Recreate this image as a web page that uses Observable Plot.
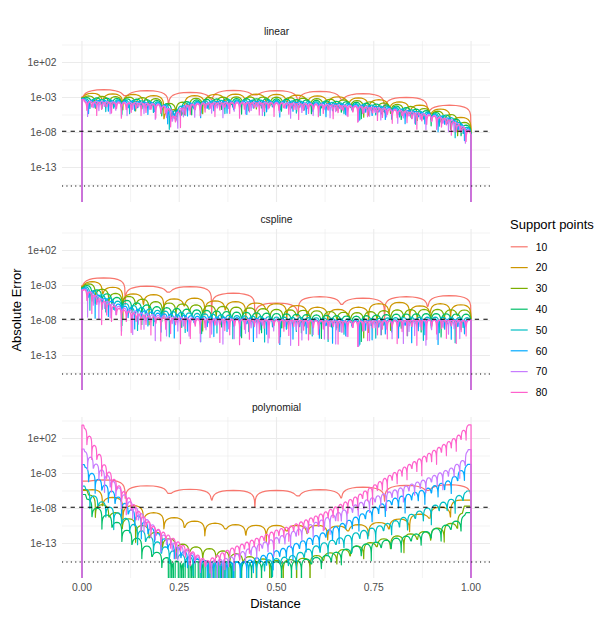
<!DOCTYPE html>
<html>
<head>
<meta charset="utf-8">
<script src="https://cdn.jsdelivr.net/npm/d3@7"></script>
<script src="https://cdn.jsdelivr.net/npm/@observablehq/plot@0.6"></script>
<style>
  body { margin: 0; background: #ffffff; }
  #wrap { position: relative; width: 608px; height: 634px; font-family: "Liberation Sans", Arial, Helvetica, sans-serif; }
  #chart, #overlay { position: absolute; left: 0; top: 0; }
  #overlay { pointer-events: none; }
</style>
</head>
<body>
<div id="wrap"><div id="chart"></div><svg id="overlay" width="608" height="634"></svg></div>
<script>
// ---------------- categories, scales, ticks ----------------
const methods = ["linear", "cspline", "polynomial"];
const supportPoints = [10, 20, 30, 40, 50, 60, 70, 80];
const palette = ["#F8766D", "#CD9600", "#7CAE00", "#00BE67", "#00BFC4", "#00A9FF", "#C77CFF", "#FF61CC"];
const xTicks = [0, 0.25, 0.5, 0.75, 1];
const xMinor = [0.125, 0.375, 0.625, 0.875];
const yTicksLog = [2, -3, -8, -13];            // log10 of 1e+02 ... 1e-13
const yMinorLog = [4.5, -0.5, -5.5, -10.5, -15.5];
const sqrtEpsLog = -7.83;                      // dashed reference line
const epsLog = -15.65;                         // dotted reference line
const ZERO = -40;                              // exact zero error (log10 = -Inf) -> panel floor

// ---------------- error envelopes: log10 of arch peaks ----------------
const arch9X = [0.056, 0.167, 0.278, 0.389, 0.5, 0.611, 0.722, 0.833, 0.944];
const arch19X = [0.026, 0.079, 0.132, 0.184, 0.237, 0.289, 0.342, 0.395, 0.447, 0.5, 0.553, 0.605, 0.658, 0.711, 0.763, 0.816, 0.868, 0.921, 0.974];

// linear
const linearX = [0, 0.05, 0.1, 0.15, 0.2, 0.225, 0.237, 0.25, 0.27, 0.3, 0.35, 0.4, 0.5, 0.6, 0.7, 0.8, 0.9, 0.95, 0.98, 1];
const linear10 = [-1.88, -2.02, -2.26, -1.98, -2.02, -2.12, -2.45, -2.97, -4.1];
const linear20 = [-2.35, -2.43, -2.50, -2.60, -2.80, -3.45, -4.75, -3.55, -2.90, -2.65, -2.55, -2.50, -2.55, -2.75, -3.00, -3.50, -4.35, -5.05, -6.05, -6.75];
const linear30 = [-2.75, -2.83, -2.90, -3.00, -3.20, -3.85, -5.15, -3.95, -3.30, -3.05, -2.95, -2.90, -2.95, -3.15, -3.40, -3.90, -4.75, -5.45, -6.45, -7.15];
const linear40 = [-3.00, -3.08, -3.15, -3.25, -3.45, -4.10, -5.40, -4.20, -3.55, -3.30, -3.20, -3.15, -3.20, -3.40, -3.65, -4.15, -5.00, -5.70, -6.70, -7.40];
const linear50 = [-3.20, -3.28, -3.35, -3.45, -3.65, -4.30, -5.60, -4.40, -3.75, -3.50, -3.40, -3.35, -3.40, -3.60, -3.85, -4.35, -5.20, -5.90, -6.90, -7.60];
const linear60 = [-3.35, -3.43, -3.50, -3.60, -3.80, -4.45, -5.75, -4.55, -3.90, -3.65, -3.55, -3.50, -3.55, -3.75, -4.00, -4.50, -5.35, -6.05, -7.05, -7.75];
const linear70 = [-3.48, -3.56, -3.63, -3.73, -3.93, -4.58, -5.88, -4.68, -4.03, -3.78, -3.68, -3.63, -3.68, -3.88, -4.13, -4.63, -5.48, -6.18, -7.18, -7.88];
const linear80 = [-3.60, -3.68, -3.75, -3.85, -4.05, -4.70, -6.00, -4.80, -4.15, -3.90, -3.80, -3.75, -3.80, -4.00, -4.25, -4.75, -5.60, -6.30, -7.30, -8.00];
const linearStart = [-2.9, -3.0, -3.05, -3.1, -3.15, -3.2, -3.25, -3.3];
const linearEnd = [-8.3, -8.3, -8.3, -8.3, -8.3, -8.3, -8.3, -8.3];
const linearDips = [1.2, 0.7, 1.9, 1.0, 0.6, 1.5, 0.8, 2.2, 0.9, 1.3, 0.7, 1.7];

// cspline
const cspline10 = [-1.9, -3.1, -3.15, -4.1, -5.5, -4.6, -4.8, -4.6, -4.45];
const cspline20 = [-2.45, -3.25, -4.2, -4.3, -4.9, -4.8, -5.2, -5.3, -5.5, -5.6, -5.86, -6.1, -6.4, -6.1, -5.6, -5.4, -5.9, -5.6, -5.75];
const cspline30X = [0.017, 0.05, 0.09, 0.15, 0.2, 0.3, 0.4, 0.5, 0.6, 0.7, 0.8, 0.9, 0.98];
const cspline30 = [-2.75, -3.5, -4.2, -4.9, -5.4, -5.8, -6.1, -6.4, -6.6, -6.9, -6.5, -6.4, -6.5];
const cspline4050X = [0.013, 0.05, 0.1, 0.15, 0.2, 0.3, 0.4, 0.5, 0.6, 0.7, 0.8, 0.9, 0.99];
const cspline40 = [-3.0, -3.9, -4.9, -5.6, -6.1, -6.5, -6.8, -7.0, -7.2, -7.4, -7.1, -7.0, -7.1];
const cspline50 = [-3.2, -4.3, -5.4, -6.1, -6.6, -7.0, -7.3, -7.5, -7.6, -7.8, -7.6, -7.5, -7.6];
const csplineHighX = [0.01, 0.05, 0.1, 0.15, 0.2, 0.3, 0.5, 0.7, 0.9, 0.99];
const cspline60 = [-3.4, -4.6, -5.8, -6.5, -7.0, -7.4, -7.8, -8.0, -7.8, -7.9];
const cspline70 = [-3.5, -4.9, -6.1, -6.9, -7.3, -7.7, -7.9, -8.1, -7.9, -8.0];
const cspline80 = [-3.6, -5.1, -6.4, -7.2, -7.6, -7.8, -7.9, -8.1, -7.9, -8.0];
const csplineStart = [-3.0, -3.1, -3.2, -3.3, -3.4, -3.5, -3.6, -3.7];
const csplineEnd = [-7.9, -7.9, -7.9, -7.9, -7.9, -7.9, -7.9, -7.9];
const csplineDips = [1.2, 2.6, 0.8, 3.3, 1.6, 2.2, 0.9, 3.6, 1.4, 2.8, 1.0, 2.0];

// polynomial
const poly10 = [-3.9, -4.75, -5.25, -5.4, -5.4, -5.3, -4.95, -4.7, -4.6];
const poly20 = [-5.3, -6.4, -7.6, -8.6, -9.3, -9.8, -10.1, -10.3, -10.4, -10.4, -10.4, -10.4, -10.5, -10.3, -10.0, -9.5, -8.8, -7.8, -6.8];
const poly30X = [0, 0.037, 0.079, 0.122, 0.165, 0.208, 0.251, 0.294, 0.34, 0.4, 0.45, 0.5, 0.56, 0.64, 0.72, 0.79, 0.88, 0.94, 0.97, 0.99];
const poly30 = [-5.3, -6.95, -8.4, -9.5, -10.7, -11.9, -13.0, -13.5, -13.8, -14.5, -15.1, -15.4, -15.2, -14.3, -13.2, -12.1, -11.3, -10.4, -9.4, -8.2];
const poly40X = [0, 0.037, 0.079, 0.122, 0.165, 0.208, 0.24, 0.3, 0.4, 0.5, 0.537, 0.622, 0.708, 0.794, 0.879, 0.93, 0.975, 0.995];
const poly40 = [-6.0, -7.9, -9.5, -11.4, -13.3, -14.8, -15.5, -15.6, -15.6, -15.6, -15.6, -14.8, -13.3, -12.4, -11.4, -10.5, -9.5, -8.6];
const poly50X = [0, 0.037, 0.079, 0.122, 0.165, 0.208, 0.251, 0.294, 0.33, 0.45, 0.537, 0.622, 0.708, 0.794, 0.879, 0.948, 0.982, 0.995];
const poly50 = [-4.8, -6.5, -8.1, -9.8, -11.7, -13.3, -14.5, -15.2, -15.6, -15.6, -14.8, -12.9, -11.4, -10.0, -8.1, -6.7, -5.8, -5.5];
const poly60X = [0, 0.028, 0.062, 0.096, 0.139, 0.182, 0.225, 0.268, 0.3, 0.33, 0.42, 0.537, 0.622, 0.708, 0.794, 0.879, 0.948, 0.982, 0.995];
const poly60 = [-1.73, -3.1, -4.8, -6.5, -8.8, -11.0, -12.9, -14.3, -15.3, -15.7, -15.6, -13.3, -11.4, -9.1, -6.7, -5.3, -3.9, -2.2, -1.7];
const poly70X = [0, 0.02, 0.037, 0.062, 0.088, 0.122, 0.165, 0.208, 0.251, 0.294, 0.32, 0.38, 0.45, 0.537, 0.622, 0.734, 0.879, 0.95, 0.982, 0.995];
const poly70 = [0.5, -0.55, -1.7, -3.1, -4.6, -6.95, -9.5, -11.7, -13.3, -14.8, -15.6, -15.0, -13.2, -11.4, -9.5, -6.7, -3.9, -2.2, -1.0, 0.4];
const poly80X = [0, 0.015, 0.028, 0.041, 0.054, 0.071, 0.088, 0.114, 0.148, 0.182, 0.225, 0.268, 0.302, 0.32, 0.379, 0.465, 0.503, 0.537, 0.622, 0.708, 0.794, 0.879, 0.965, 0.995];
const poly80 = [3.9, 2.77, 1.35, 0.15, -1.5, -2.9, -4.3, -6.0, -8.6, -10.5, -11.9, -13.6, -14.8, -15.5, -13.8, -11.9, -11.0, -10.5, -8.6, -6.2, -3.15, -0.55, 2.3, 3.95];
const polyStart = [-4.1, -5.4, -5.3, -6.0, -4.8, -1.73, 0.5, 3.9];
const polyEnd = [-6.0, -6.8, -7.65, -8.6, -5.5, -1.7, 0.4, 3.95];
const polyDips = [0.9, 1.8, 0.6, 1.4, 2.4, 0.8, 1.2, 2.0, 0.7, 1.6];
// x-ranges where the error is exactly zero at support points (spikes to the panel floor)
const polyZeroSpans = [null, null, [0.43, 0.6], [0.215, 0.58], [0.3, 0.46], [0.33, 0.43], [0.32, 0.37], null];
// x-ranges where it is also zero between support points (dense comb)
const polyCombSpans = [null, null, null, [0.215, 0.4], null, null, null, null];

// shape of one arch between neighbouring support points (relative position, log10 drop from peak)
const archT = [0.01, 0.03, 0.06, 0.1, 0.16, 0.25, 0.35, 0.5, 0.65, 0.75, 0.84, 0.9, 0.94, 0.97, 0.99];
const archDrop = [-1.4, -0.93, -0.65, -0.44, -0.27, -0.125, -0.04, 0, -0.04, -0.125, -0.27, -0.44, -0.65, -0.93, -1.4];

// ---------------- assemble ----------------
const panels = {
  linear: {
    env: [[arch9X, linear10], [linearX, linear20], [linearX, linear30], [linearX, linear40],
          [linearX, linear50], [linearX, linear60], [linearX, linear70], [linearX, linear80]],
    start: linearStart, end: linearEnd, dips: linearDips, zero: [], comb: []
  },
  cspline: {
    env: [[arch9X, cspline10], [arch19X, cspline20], [cspline30X, cspline30], [cspline4050X, cspline40],
          [cspline4050X, cspline50], [csplineHighX, cspline60], [csplineHighX, cspline70], [csplineHighX, cspline80]],
    start: csplineStart, end: csplineEnd, dips: csplineDips, zero: [], comb: []
  },
  polynomial: {
    env: [[arch9X, poly10], [arch19X, poly20], [poly30X, poly30], [poly40X, poly40],
          [poly50X, poly50], [poly60X, poly60], [poly70X, poly70], [poly80X, poly80]],
    start: polyStart, end: polyEnd, dips: polyDips, zero: polyZeroSpans, comb: polyCombSpans
  }
};

function envelopeAt(xs, vs, x) {
  if (x <= xs[0]) return vs[0];
  for (let i = 1; i < xs.length; i++) {
    if (x <= xs[i]) return vs[i - 1] + (vs[i] - vs[i - 1]) * (x - xs[i - 1]) / (xs[i] - xs[i - 1]);
  }
  return vs[vs.length - 1];
}
const within = (span, x) => !!span && x >= span[0] && x <= span[1];

const rows = [];
for (const method of methods) {
  const p = panels[method];
  supportPoints.forEach((n, si) => {
    const [xs, vs] = p.env[si];
    const zeroSpan = p.zero[si] || null;
    const combSpan = p.comb[si] || null;
    const h = 1 / (n - 1);
    const peaks = d3.range(n - 1).map(k => envelopeAt(xs, vs, (k + 0.5) * h));
    const nodes = d3.range(n).map(j => {
      if (j === 0) return p.start[si];
      if (j === n - 1) return p.end[si];
      if (within(zeroSpan, j * h)) return ZERO;
      return Math.min(peaks[j - 1], peaks[j]) - p.dips[(j + 5 * si) % p.dips.length];
    });
    rows.push({method, n, x: 0, y: ZERO});
    nodes.forEach((v, j) => {
      rows.push({method, n, x: j * h, y: v});
      if (j < n - 1) {
        archT.forEach((t, i) => {
          const xx = (j + t) * h;
          let y = Math.max(peaks[j] + archDrop[i], t < 0.5 ? nodes[j] : nodes[j + 1]);
          if (within(combSpan, xx) && (t === 0.25 || t === 0.75)) y = ZERO;
          rows.push({method, n, x: xx, y});
        });
      }
    });
    rows.push({method, n, x: 1, y: ZERO});
  });
}

const fmtExp = d => "1e" + (d < 0 ? "-" : "+") + String(Math.abs(d)).padStart(2, "0");

const chart = Plot.plot({
  width: 608,
  height: 634,
  marginTop: 40,
  marginBottom: 54,
  marginLeft: 62,
  marginRight: 118,
  style: {fontFamily: "Liberation Sans, Arial, Helvetica, sans-serif", fontSize: "10.3px", color: "#4D4D4D", background: "transparent", overflow: "visible"},
  x: {domain: [-0.05, 1.05]},
  y: {domain: [-18, 5]},
  fy: {domain: methods, paddingInner: 0.142, paddingOuter: 0, axis: null},
  color: {type: "ordinal", domain: supportPoints, range: palette},
  marks: [
    Plot.ruleY(yMinorLog, {stroke: "#EBEBEB", strokeWidth: 0.6}),
    Plot.ruleX(xMinor, {stroke: "#EBEBEB", strokeWidth: 0.6}),
    Plot.ruleY(yTicksLog, {stroke: "#EBEBEB", strokeWidth: 1.1}),
    Plot.ruleX(xTicks, {stroke: "#EBEBEB", strokeWidth: 1.1}),
    Plot.line(rows, {x: "x", y: "y", z: "n", stroke: "n", fy: "method", strokeWidth: 1.2, clip: true}),
    Plot.ruleY([sqrtEpsLog], {stroke: "#000", strokeWidth: 1.1, strokeDasharray: "4.3,4.3"}),
    Plot.ruleY([epsLog], {stroke: "#000", strokeWidth: 1.1, strokeDasharray: "1.1,3.3"}),
    Plot.axisY({ticks: yTicksLog, tickSize: 0, tickPadding: 6, tickFormat: fmtExp, label: null}),
    Plot.axisX({ticks: xTicks, tickSize: 0, tickPadding: 5, tickFormat: d3.format(".2f"), label: null}),
    Plot.text(methods, {fy: d => d, text: d => d, frameAnchor: "top", dy: -10, lineAnchor: "middle", fill: "#1A1A1A", fontSize: 10.3})
  ]
});
document.getElementById("chart").append(chart);

// ---------------- titles and legend ----------------
const ns = "http://www.w3.org/2000/svg";
const overlay = document.getElementById("overlay");
function addText(txt, attrs) {
  const el = document.createElementNS(ns, "text");
  for (const k in attrs) el.setAttribute(k, attrs[k]);
  el.textContent = txt;
  overlay.appendChild(el);
  return el;
}
const font = "Liberation Sans, Arial, Helvetica, sans-serif";
addText("Absolute Error", {transform: "translate(20.5,310) rotate(-90)", "text-anchor": "middle", "font-size": 13, "font-family": font, fill: "#000"});
addText("Distance", {x: 275.5, y: 608.3, "text-anchor": "middle", "font-size": 13, "font-family": font, fill: "#000"});
addText("Support points", {x: 510, y: 228.5, "font-size": 13, "font-family": font, fill: "#000"});
supportPoints.forEach((n, i) => {
  const ky = 246.8 + i * 20.8;
  const ln = document.createElementNS(ns, "line");
  ln.setAttribute("x1", 510.7); ln.setAttribute("x2", 527.7);
  ln.setAttribute("y1", ky); ln.setAttribute("y2", ky);
  ln.setAttribute("stroke", palette[i]); ln.setAttribute("stroke-width", 1.2);
  overlay.appendChild(ln);
  addText(String(n), {x: 535.7, y: ky + 3.7, "font-size": 10.3, "font-family": font, fill: "#000"});
});
</script>
</body>
</html>
